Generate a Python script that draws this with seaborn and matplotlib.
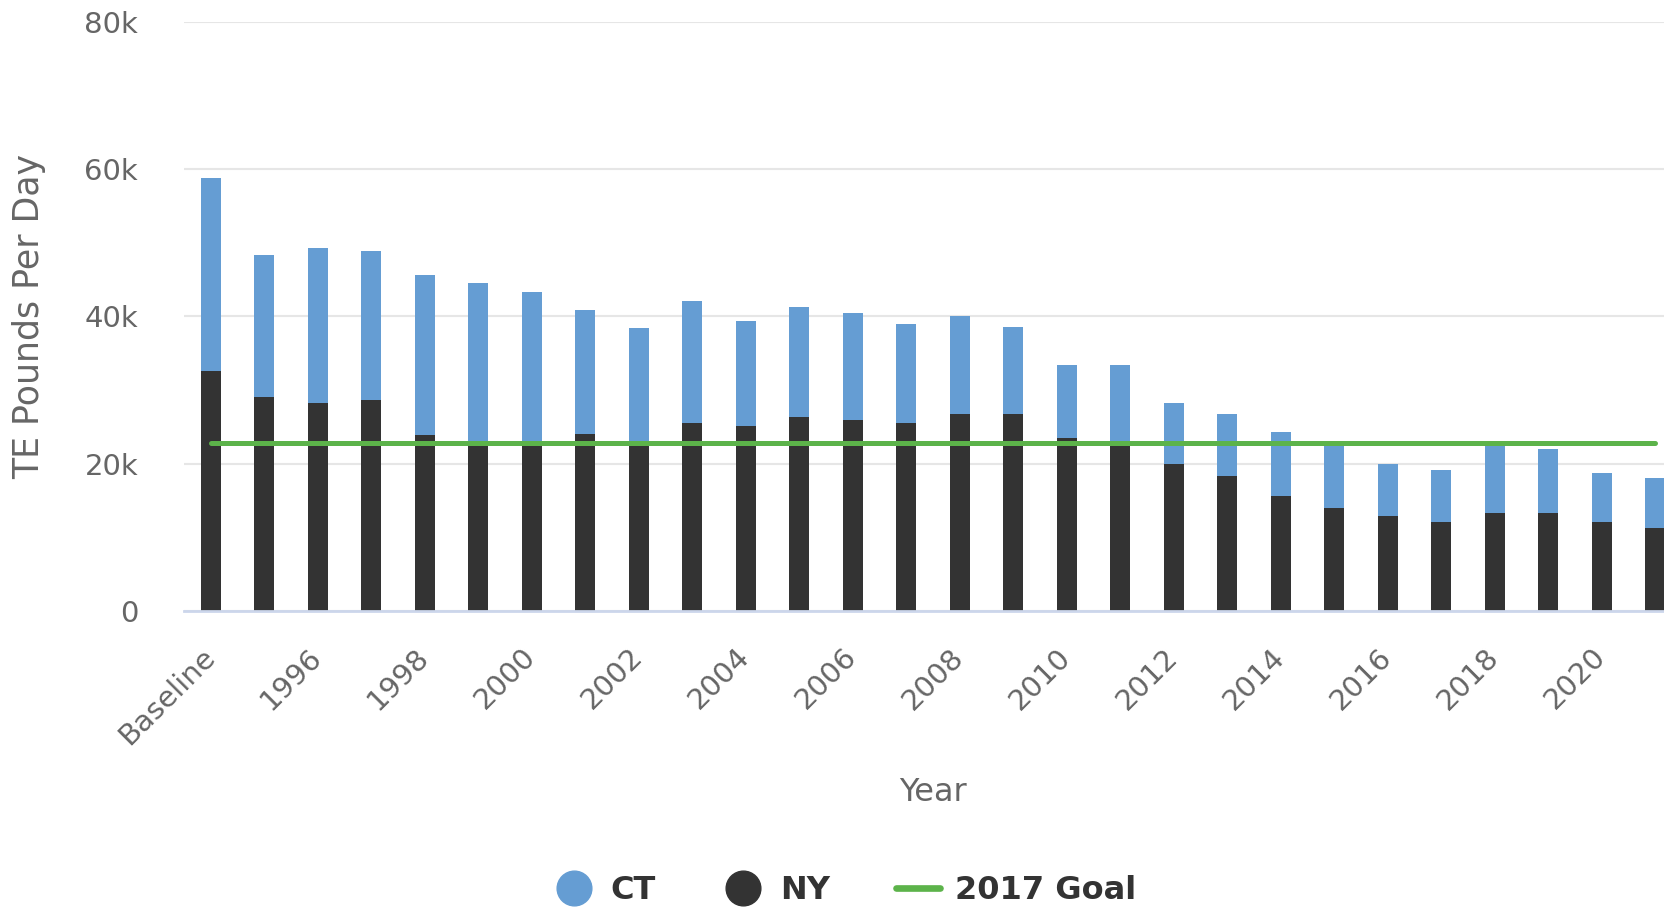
import matplotlib
matplotlib.use("Agg")
import matplotlib.pyplot as plt
from matplotlib.lines import Line2D
from matplotlib.ticker import FuncFormatter
import seaborn as sns
import pandas as pd

# Nitrogen loads (TE pounds per day) by state
years = ["Baseline"] + [str(y) for y in range(1995, 2022)]
ny_load = [32600, 29100, 28300, 28700, 23900, 22700, 22700, 24000, 22800, 25500,
           25100, 26300, 25900, 25500, 26700, 26700, 23500, 22400, 20000, 18400,
           15600, 14000, 12900, 12100, 13300, 13300, 12100, 11300]
ct_load = [26200, 19300, 21000, 20200, 21800, 21800, 20600, 16900, 15700, 16600,
           14300, 15000, 14600, 13500, 13400, 11900, 9900, 11000, 8300, 8300,
           8700, 8500, 7000, 7050, 9100, 8700, 6700, 6700]
goal_2017 = 22800

yticks = [0, 20000, 40000, 60000, 80000]

CT_COLOR = "#659dd3"
NY_COLOR = "#333333"
GOAL_COLOR = "#5cb34a"
TEXT_COLOR = "#666666"

df = pd.DataFrame({"Year": years, "NY": ny_load, "CT": ct_load})
df["Total"] = df["NY"] + df["CT"]

sns.set_theme(style="white")
plt.rcParams["font.family"] = ["DejaVu Sans"]

fig = plt.figure(figsize=(16.64, 9.08), dpi=100)
ax = fig.add_axes([0.1106, 0.3271, 0.9002, 0.6487])

# Stacked bars: CT sits on top of NY, so draw the totals first
sns.barplot(data=df, x="Year", y="Total", color=CT_COLOR, width=0.37,
            errorbar=None, saturation=1, linewidth=0, ax=ax, zorder=2)
sns.barplot(data=df, x="Year", y="NY", color=NY_COLOR, width=0.37,
            errorbar=None, saturation=1, linewidth=0, ax=ax, zorder=3)

# 2017 goal line across all categories
ax.hlines(goal_2017, 0, len(years) - 1, color=GOAL_COLOR, lw=3.6,
          capstyle="round", zorder=4)

ax.set_xlim(-0.5, len(years) - 0.5)
ax.set_ylim(0, 80000)
ax.set_yticks(yticks)
ax.yaxis.set_major_formatter(FuncFormatter(lambda v, _: "0" if v == 0 else f"{v/1000:.0f}k"))
ax.grid(axis="y", color="#e6e6e6", lw=1.5, zorder=0)
ax.grid(axis="x", visible=False)
ax.set_axisbelow(True)

ax.set_xticks(range(0, len(years), 2))
ax.set_xticklabels(years[::2], rotation=45, ha="right", va="center",
                   rotation_mode="anchor")

ax.tick_params(axis="y", length=0, pad=33, labelsize=21, labelcolor=TEXT_COLOR)
ax.tick_params(axis="x", length=0, pad=30, labelsize=21, labelcolor=TEXT_COLOR)

for side in ("top", "right", "left"):
    ax.spines[side].set_visible(False)
ax.spines["bottom"].set_color("#ccd6eb")
ax.spines["bottom"].set_linewidth(2)
ax.spines["bottom"].set_zorder(5)

ax.set_xlabel("Year", fontsize=23, color=TEXT_COLOR, va="top")
ax.xaxis.set_label_coords(0.5, -0.281)
ax.set_ylabel("TE Pounds Per Day", fontsize=25, color=TEXT_COLOR)
ax.yaxis.set_label_coords(-0.092, 0.5)

handles = [
    Line2D([], [], marker="o", ls="none", ms=25, color=CT_COLOR, label="CT"),
    Line2D([], [], marker="o", ls="none", ms=25, color=NY_COLOR, label="NY"),
    Line2D([], [], color=GOAL_COLOR, lw=4.8, solid_capstyle="round", label="2017 Goal"),
]
leg = fig.legend(handles=handles, loc="center", bbox_to_anchor=(0.507, 0.019),
                 ncol=3, frameon=False, handlelength=1.4, handletextpad=0.45,
                 columnspacing=2.05, prop={"size": 23, "weight": "bold"})
for t in leg.get_texts():
    t.set_color("#333333")

fig.savefig("out.png", dpi=100)
